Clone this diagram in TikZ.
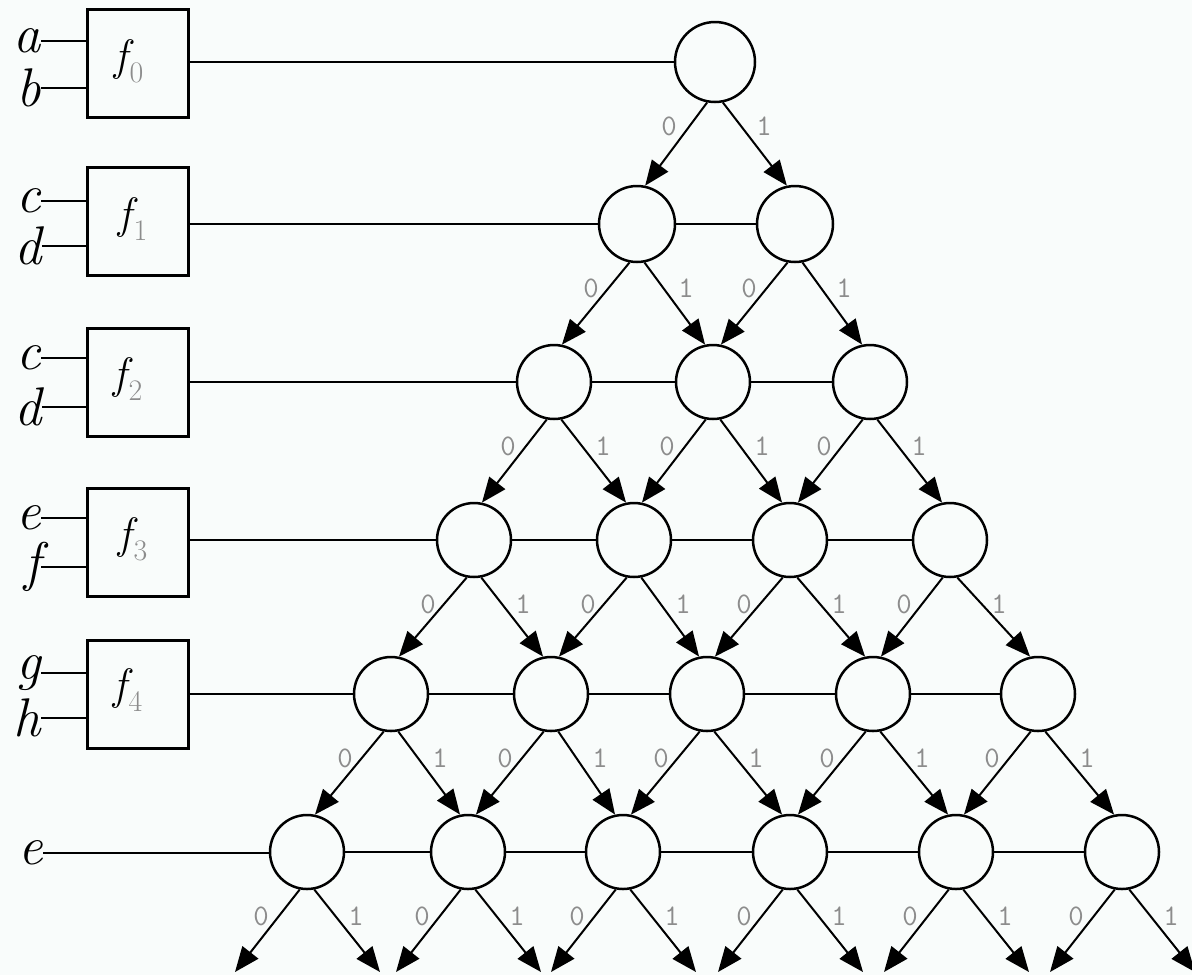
\documentclass[tikz,border=0pt]{standalone}
\usetikzlibrary{arrows.meta}
\definecolor{bg}{RGB}{249,252,251}
\definecolor{lblgray}{RGB}{140,140,140}
\newcommand{\fsub}[1]{{\itshape f}\kern1pt{\fontsize{17}{20}\selectfont\raisebox{-7pt}{\textcolor{lblgray}{#1}}}}
\tikzset{
  state/.style={circle,draw,line width=0.05cm,minimum size=1.48cm,inner sep=0pt},
  fbox/.style={draw,line width=0.06cm,minimum width=2.02cm,minimum height=2.16cm,inner sep=0pt},
  flbl/.style={inner sep=0pt,font=\fontsize{25}{28}\selectfont},
  inlbl/.style={inner sep=0pt,anchor=east,font=\fontsize{31}{35}\selectfont\itshape},
  wire/.style={line width=0.05cm},
  link/.style={line width=0.045cm},
  arr/.style={line width=0.04cm,-{Triangle[length=0.5cm,width=0.4cm]}},
  bit/.style={inner sep=0pt,text=lblgray,font=\fontsize{17}{20}\selectfont\ttfamily},
}
\begin{document}
\begin{tikzpicture}[x=0.02cm,y=-0.02cm]
\fill[bg] (0,0) rectangle (1192,975);
\clip (0,0) rectangle (1192,975);

% function boxes
\node[fbox] (f0) at (138,63.5) {};
\node[fbox] (f1) at (138,221.5) {};
\node[fbox] (f2) at (138,382) {};
\node[fbox] (f3) at (138,542) {};
\node[fbox] (f4) at (138,694.5) {};
\node[flbl] (t0) at (129,61) {\fsub{0}};
\node[flbl] (t1) at (133,219) {\fsub{1}};
\node[flbl] (t2) at (128,379) {\fsub{2}};
\node[flbl] (t3) at (133,539) {\fsub{3}};
\node[flbl] (t4) at (128,690) {\fsub{4}};

% inputs
\node[inlbl] (ia)  at (41,41)  {a};
\node[inlbl] (ib)  at (41,88)  {b};
\node[inlbl] (ic1) at (41,201) {c};
\node[inlbl] (id1) at (42,246) {d};
\node[inlbl] (ic2) at (41,358) {c};
\node[inlbl] (id2) at (42,407) {d};
\node[inlbl] (ie1) at (41,518) {e};
\node[inlbl] (if1) at (41,567) {f};
\node[inlbl] (ig)  at (41,673) {g};
\node[inlbl] (ih)  at (41,718) {h};
\node[inlbl] (ie2) at (43,853) {e};
\foreach \a/\b in {ia/f0,ib/f0,ic1/f1,id1/f1,ic2/f2,id2/f2,ie1/f3,if1/f3,ig/f4,ih/f4}
  \draw[wire] (\a.east) -- (\a.east -| \b.west);

% states
\node[state,minimum size=1.6cm] (n0-0) at (715,62) {};
\node[state,minimum size=1.52cm] (n1-0) at (637,224) {};
\node[state,minimum size=1.52cm] (n1-1) at (795,224) {};
\node[state] (n2-0) at (554,382) {};
\node[state] (n2-1) at (713,382) {};
\node[state] (n2-2) at (870,382) {};
\node[state] (n3-0) at (474,540) {};
\node[state] (n3-1) at (634,540) {};
\node[state] (n3-2) at (790,540) {};
\node[state] (n3-3) at (950,540) {};
\node[state] (n4-0) at (391,694) {};
\node[state] (n4-1) at (551,694) {};
\node[state] (n4-2) at (707,694) {};
\node[state] (n4-3) at (873,694) {};
\node[state] (n4-4) at (1038,694) {};
\node[state] (n5-0) at (307,852) {};
\node[state] (n5-1) at (468,852) {};
\node[state] (n5-2) at (623,852) {};
\node[state] (n5-3) at (790,852) {};
\node[state] (n5-4) at (956,852) {};
\node[state] (n5-5) at (1122,852) {};

% horizontal links
\draw[link] (f0.east |- n0-0) -- (n0-0.west);
\draw[link] (f1.east |- n1-0) -- (n1-0.west);
\draw[link] (f2.east |- n2-0) -- (n2-0.west);
\draw[link] (f3.east |- n3-0) -- (n3-0.west);
\draw[link] (f4.east |- n4-0) -- (n4-0.west);
\draw[wire] (ie2.east) -- (ie2.east -| n5-0.west);
\draw[link] (n1-0.east) -- (n1-1.west);
\draw[link] (n2-0.east) -- (n2-1.west);
\draw[link] (n2-1.east) -- (n2-2.west);
\draw[link] (n3-0.east) -- (n3-1.west);
\draw[link] (n3-1.east) -- (n3-2.west);
\draw[link] (n3-2.east) -- (n3-3.west);
\draw[link] (n4-0.east) -- (n4-1.west);
\draw[link] (n4-1.east) -- (n4-2.west);
\draw[link] (n4-2.east) -- (n4-3.west);
\draw[link] (n4-3.east) -- (n4-4.west);
\draw[link] (n5-0.east) -- (n5-1.west);
\draw[link] (n5-1.east) -- (n5-2.west);
\draw[link] (n5-2.east) -- (n5-3.west);
\draw[link] (n5-3.east) -- (n5-4.west);
\draw[link] (n5-4.east) -- (n5-5.west);

% branches
\foreach \r in {0,...,4}{
  \pgfmathtruncatemacro\nr{\r+1}
  \foreach \i in {0,...,\r}{
    \pgfmathtruncatemacro\j{\i+1}
    \draw[arr] (n\r-\i.259) -- (n\nr-\i.78);
    \draw[arr] (n\r-\i.281) -- (n\nr-\j.102);
    \path (n\r-\i) ++(-46,64) node[bit] (b\r-\i-0) {0};
    \path (n\r-\i) ++(49,64) node[bit] (b\r-\i-1) {1};
  }
}
\foreach \x [count=\i from 0] in {307,468,623,790,956,1122}{
  \coordinate (e\i-0) at (\x-72,972);
  \coordinate (e\i-1) at (\x+73,972);
  \draw[arr] (n5-\i.259) -- (e\i-0);
  \draw[arr] (n5-\i.281) -- (e\i-1);
  \path (n5-\i) ++(-46,64) node[bit] (b5-\i-0) {0};
  \path (n5-\i) ++(49,64) node[bit] (b5-\i-1) {1};
}
\end{tikzpicture}
\end{document}
